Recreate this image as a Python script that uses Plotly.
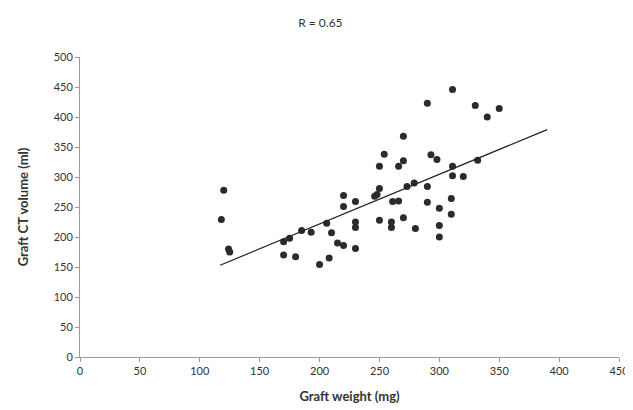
import plotly.graph_objects as go

# Data
graft_weight_mg = [118, 120, 124, 125, 170, 175, 170, 180, 185, 193, 200, 206, 208, 210,
                   215, 220, 220, 220, 230, 230, 230, 230, 246, 248, 250, 250, 250, 254,
                   261, 266, 260, 260, 266, 270, 270, 270, 273, 279, 280, 290, 290, 290,
                   293, 298, 300, 300, 300, 311, 311, 311, 310, 310, 320, 332, 330, 340, 350]
graft_ct_volume_ml = [229, 278, 180, 175, 192, 198, 170, 167, 211, 208, 154, 223, 165, 207,
                      190, 186, 269, 251, 181, 259, 225, 216, 268, 271, 281, 228, 318, 338,
                      259, 260, 225, 216, 318, 327, 368, 232, 284, 290, 214, 284, 258, 423,
                      337, 329, 248, 219, 200, 446, 318, 302, 264, 238, 301, 328, 419, 400, 414]

# Trend line endpoints as drawn in the reference
trend_x = [117, 390]
trend_y = [153, 379]

x_ticks = [0, 50, 100, 150, 200, 250, 300, 350, 400, 450]
y_ticks = [0, 50, 100, 150, 200, 250, 300, 350, 400, 450, 500]

title_text = "R = 0.65"
x_title = "Graft weight (mg)"
y_title = "Graft CT volume (ml)"

FONT = "Lato, Carlito, 'Liberation Sans', sans-serif"

fig = go.Figure()
fig.add_trace(go.Scatter(
    x=graft_weight_mg, y=graft_ct_volume_ml, mode="markers",
    marker=dict(size=7, color="#2b2b2b", line=dict(width=0)),
    showlegend=False, hoverinfo="x+y"))
fig.add_trace(go.Scatter(
    x=trend_x, y=trend_y, mode="lines",
    line=dict(color="#222222", width=1.2),
    showlegend=False, hoverinfo="skip"))

axis_common = dict(
    showgrid=False, zeroline=False, showline=True, linecolor="#9a9a9a", linewidth=1,
    ticks="outside", tickcolor="#9a9a9a", ticklen=4, tickwidth=1,
    tickfont=dict(family=FONT, size=11, color="#333333"),
)

fig.update_layout(
    width=633, height=410,
    margin=dict(l=72, r=12, t=49, b=61),
    paper_bgcolor="white", plot_bgcolor="white",
    font=dict(family=FONT, color="#333333"),
    title=dict(text=title_text, x=0.446, xref="paper", xanchor="center",
               y=1 - 15 / 410, yref="container", yanchor="middle",
               font=dict(family=FONT, size=12, color="#333333")),
    xaxis=dict(range=[0, 450], tickvals=x_ticks, **axis_common,
               title=dict(text=x_title, standoff=15,
                          font=dict(family=FONT, size=13, color="#333333", weight="bold"))),
    yaxis=dict(range=[0, 500], tickvals=y_ticks, **axis_common,
               title=dict(text=y_title, standoff=22,
                          font=dict(family=FONT, size=13, color="#333333", weight="bold"))),
)

fig.write_html("out.html")
